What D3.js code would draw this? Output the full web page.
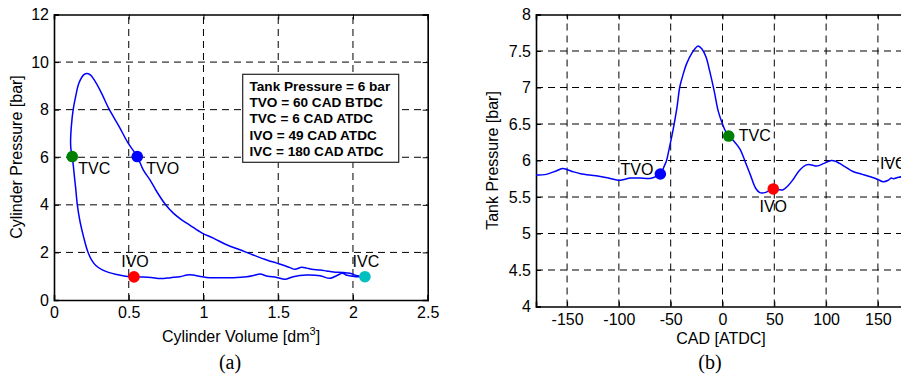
<!DOCTYPE html>
<html>
<head>
<meta charset="utf-8">
<script src="https://cdn.jsdelivr.net/npm/d3@7/dist/d3.min.js"></script>
<style>
html,body{margin:0;padding:0;background:#fff;}
svg{display:block;}
text{font-family:"Liberation Sans",Arial,sans-serif;fill:#000;}
</style>
</head>
<body>
<svg id="chart" width="901" height="380"></svg>
<script>
// ---------- Data: panel (a) cylinder pressure vs volume (cycle order, starting at IVC) ----------
const pvVolume = [
  2.07, 2.03, 1.98, 1.93, 1.87, 1.824, 1.78, 1.724, 1.69, 1.657, 1.612, 1.579, 1.54, 1.49, 1.423, 1.333, 1.244, 1.155, 1.066, 0.988, 0.91, 0.854, 0.798, 0.747, 0.687, 0.642, 0.597, 0.557,
  0.495, 0.435, 0.368, 0.312, 0.268, 0.245, 0.223, 0.2, 0.167, 0.145, 0.129, 0.116, 0.111, 0.114, 0.122,
  0.13, 0.138, 0.145, 0.156, 0.174, 0.2, 0.225, 0.25, 0.28, 0.32, 0.37, 0.42, 0.48, 0.535,
  0.6, 0.65, 0.714, 0.78, 0.843, 0.89, 0.93, 0.97, 1.02, 1.1, 1.2, 1.29, 1.34, 1.378, 1.43, 1.49, 1.545, 1.6, 1.69, 1.78, 1.846, 1.89, 1.93, 1.96, 2.02, 2.07
];
const pvPressure = [
  0.98, 1.02, 1.12, 1.16, 1.18, 1.22, 1.26, 1.29, 1.34, 1.38, 1.29, 1.36, 1.45, 1.55, 1.68, 1.89, 2.11, 2.32, 2.60, 2.82, 3.14, 3.37, 3.65, 4.0, 4.56, 5.05, 5.47, 6.03,
  6.6, 7.3, 8.03, 8.77, 9.26, 9.45, 9.52, 9.47, 9.12, 8.56, 8.03, 7.3, 6.6, 6.3, 6.03,
  5.6, 5.1, 4.7, 4.0, 3.3, 2.6, 2.05, 1.7, 1.45, 1.28, 1.15, 1.07, 1.0, 0.97,
  0.97, 0.95, 0.9, 0.94, 0.98, 1.05, 1.05, 1.0, 0.95, 0.94, 0.94, 0.98, 1.04, 1.09, 1.0, 0.95, 0.87, 0.98, 1.05, 1.02, 0.91, 1.02, 1.12, 1.04, 0.98, 0.98
];
const pvEventNames = ["TVC", "TVO", "IVO", "IVC"];
const pvEventVolume = [0.122, 0.557, 0.535, 2.08];
const pvEventPressure = [6.03, 6.03, 0.97, 0.98];
const eventColors = ["#008000", "#0000ff", "#ff0000", "#00bfbf"];

const pvXTicks = [0, 0.5, 1, 1.5, 2, 2.5];
const pvXTickLabels = ["0", "0.5", "1", "1.5", "2", "2.5"];
const pvYTicks = [0, 2, 4, 6, 8, 10, 12];
const pvYTickLabels = ["0", "2", "4", "6", "8", "10", "12"];

const infoLines = ["Tank Pressure = 6 bar", "TVO = 60 CAD BTDC", "TVC = 6 CAD ATDC", "IVO = 49 CAD ATDC", "IVC = 180 CAD ATDC"];

// ---------- Data: panel (b) tank pressure vs crank angle ----------
const cadValues = [
  -180, -170, -160, -154, -145, -137, -122, -110, -101, -95, -89, -80, -70, -64, -60,
  -56, -54, -50.9, -47.7, -44, -41.2, -38, -34.8, -30, -26, -23.6, -20, -16, -12.3, -8, -4.2, 0, 3, 6.4, 10, 16.7, 22, 27, 32, 36, 41, 48.3,
  54, 58.5, 63, 68.2, 74, 81, 86, 91, 98, 105, 109, 113, 120, 126, 135, 142, 150, 155, 160, 163, 165, 170, 180
];
const tankPressure = [
  5.80, 5.81, 5.86, 5.89, 5.85, 5.82, 5.79, 5.76, 5.73, 5.74, 5.76, 5.76, 5.755, 5.78, 5.815,
  5.93, 6.0, 6.2, 6.42, 6.72, 7.01, 7.18, 7.32, 7.46, 7.54, 7.57, 7.53, 7.42, 7.22, 6.95, 6.68, 6.5, 6.4, 6.335, 6.28, 6.16, 5.98, 5.8, 5.62, 5.56, 5.56, 5.61,
  5.6, 5.6, 5.65, 5.74, 5.86, 5.94, 5.94, 5.925, 5.96, 6.0, 5.99, 5.96, 5.9, 5.85, 5.81, 5.78, 5.74, 5.71, 5.73, 5.76, 5.75, 5.77, 5.79
];
const tankEventNames = ["TVO", "TVC", "IVO", "IVC"];
const tankEventCad = [-60, 6, 49, 180];
const tankEventPressure = [5.815, 6.335, 5.61, 5.79];
const tankEventColors = ["#0000ff", "#008000", "#ff0000", "#00bfbf"];

const cadXTicks = [-150, -100, -50, 0, 50, 100, 150];
const cadXTickLabels = ["-150", "-100", "-50", "0", "50", "100", "150"];
const tankYTicks = [4, 4.5, 5, 5.5, 6, 6.5, 7, 7.5, 8];
const tankYTickLabels = ["4", "4.5", "5", "5.5", "6", "6.5", "7", "7.5", "8"];

// ---------- Drawing ----------
const svg = d3.select("#chart");

function panel(opts) {
  const g = svg.append("g");
  const x = opts.x, y = opts.y;
  const [x0, x1] = x.range();
  const [y0, y1] = y.range(); // y0 bottom, y1 top
  // grid
  g.append("g").selectAll("line").data(opts.xTicks.filter(t => t !== x.domain()[0] && t !== x.domain()[1]))
    .join("line").attr("x1", d => x(d)).attr("x2", d => x(d)).attr("y1", y0).attr("y2", y1)
    .attr("stroke", "#000").attr("stroke-width", 1).attr("stroke-dasharray", "7,5");
  g.append("g").selectAll("line").data(opts.yTicks.filter(t => t !== y.domain()[0] && t !== y.domain()[1]))
    .join("line").attr("y1", d => y(d)).attr("y2", d => y(d)).attr("x1", x0).attr("x2", x1)
    .attr("stroke", "#000").attr("stroke-width", 1).attr("stroke-dasharray", "7,5");
  // axes
  const fmtX = d => opts.xLabels[opts.xTicks.indexOf(d)];
  const fmtY = d => opts.yLabels[opts.yTicks.indexOf(d)];
  const ax = g.append("g").attr("transform", `translate(0,${y0})`)
    .call(d3.axisBottom(x).tickValues(opts.xTicks).tickFormat(fmtX).tickSize(-5).tickPadding(7));
  const ay = g.append("g").attr("transform", `translate(${x0},0)`)
    .call(d3.axisLeft(y).tickValues(opts.yTicks).tickFormat(fmtY).tickSize(-5).tickPadding(5));
  const at = g.append("g").attr("transform", `translate(0,${y1})`)
    .call(d3.axisTop(x).tickValues(opts.xTicks).tickFormat("").tickSize(-5));
  const ar = g.append("g").attr("transform", `translate(${x1},0)`)
    .call(d3.axisRight(y).tickValues(opts.yTicks).tickFormat("").tickSize(-5));
  [ax, ay, at, ar].forEach(a => {
    a.select(".domain").attr("stroke", "#000").attr("stroke-width", 1.6);
    a.selectAll(".tick line").attr("stroke", "#000");
    a.selectAll("text").style("font-size", "16px").attr("fill", "#000")
      .style("font-family", '"Liberation Sans", Arial, sans-serif');
  });
  return g;
}

// Panel (a)
const xa = d3.scaleLinear().domain([0, 2.5]).range([54, 427.7]);
const ya = d3.scaleLinear().domain([0, 12]).range([300, 14.5]);
const ga = panel({x: xa, y: ya, xTicks: pvXTicks, xLabels: pvXTickLabels, yTicks: pvYTicks, yLabels: pvYTickLabels});

const pvPts = pvVolume.map((v, i) => [v, pvPressure[i]]);
ga.append("path").datum(pvPts)
  .attr("d", d3.line().x(d => xa(d[0])).y(d => ya(d[1])).curve(d3.curveCatmullRom.alpha(0.5)))
  .attr("fill", "none").attr("stroke", "#0000ff").attr("stroke-width", 1.5);

ga.append("g").selectAll("circle").data(pvEventNames).join("circle")
  .attr("cx", (d, i) => xa(pvEventVolume[i])).attr("cy", (d, i) => ya(pvEventPressure[i]))
  .attr("r", 5.8).attr("fill", (d, i) => eventColors[i]);

const pvLabelOffsets = {TVC: [6, 17, "start"], TVO: [9, 17, "start"], IVO: [1, -10, "middle"], IVC: [1, -10, "middle"]};
ga.append("g").selectAll("text").data(pvEventNames).join("text")
  .attr("x", (d, i) => xa(pvEventVolume[i]) + pvLabelOffsets[d][0])
  .attr("y", (d, i) => ya(pvEventPressure[i]) + pvLabelOffsets[d][1])
  .attr("text-anchor", d => pvLabelOffsets[d][2])
  .style("font-size", "16px").text(d => d);

// info box
const box = ga.append("g");
box.append("rect").attr("x", 242.7).attr("y", 74.3).attr("width", 156).attr("height", 88)
  .attr("fill", "#fff").attr("stroke", "#222").attr("stroke-width", 1.2);
box.selectAll("text").data(infoLines).join("text")
  .attr("x", 249.5).attr("y", (d, i) => 90.7 + i * 16.35)
  .style("font-size", "13.6px").style("font-weight", "bold").text(d => d);

// axis labels (a)
const xla = ga.append("text").attr("x", 241).attr("y", 342).attr("text-anchor", "middle").style("font-size", "16px");
xla.append("tspan").text("Cylinder Volume [dm");
xla.append("tspan").attr("dy", -7).style("font-size", "11px").text("3");
xla.append("tspan").attr("dy", 7).text("]");
ga.append("text").attr("transform", "translate(22,157) rotate(-90)").attr("text-anchor", "middle")
  .style("font-size", "16px").text("Cylinder Pressure [bar]");
ga.append("text").attr("x", 230).attr("y", 369).attr("text-anchor", "middle")
  .style("font-family", '"Liberation Serif","DejaVu Serif",serif').style("font-size", "20px").text("(a)");

// Panel (b)
const xb = d3.scaleLinear().domain([-180, 180]).range([536, 909]);
const yb = d3.scaleLinear().domain([4, 8]).range([306.5, 14.5]);
const gb = panel({x: xb, y: yb, xTicks: cadXTicks, xLabels: cadXTickLabels, yTicks: tankYTicks, yLabels: tankYTickLabels});

const tankPts = cadValues.map((c, i) => [c, tankPressure[i]]);
gb.append("path").datum(tankPts)
  .attr("d", d3.line().x(d => xb(d[0])).y(d => yb(d[1])).curve(d3.curveCatmullRom.alpha(0.5)))
  .attr("fill", "none").attr("stroke", "#0000ff").attr("stroke-width", 1.5);

gb.append("g").selectAll("circle").data(tankEventNames).join("circle")
  .attr("cx", (d, i) => xb(tankEventCad[i])).attr("cy", (d, i) => yb(tankEventPressure[i]))
  .attr("r", 5.8).attr("fill", (d, i) => tankEventColors[i]);

const tankLabelOffsets = {TVO: [-7, 1, "end"], TVC: [10, 5, "start"], IVO: [0, 23, "middle"], IVC: [-29, -7, "start"]};
gb.append("g").selectAll("text").data(tankEventNames).join("text")
  .attr("x", (d, i) => xb(tankEventCad[i]) + tankLabelOffsets[d][0])
  .attr("y", (d, i) => yb(tankEventPressure[i]) + tankLabelOffsets[d][1])
  .attr("text-anchor", d => tankLabelOffsets[d][2])
  .style("font-size", "16px").text(d => d);

gb.append("text").attr("x", 721).attr("y", 344).attr("text-anchor", "middle").style("font-size", "16px").text("CAD [ATDC]");
gb.append("text").attr("transform", "translate(498,160.5) rotate(-90)").attr("text-anchor", "middle")
  .style("font-size", "16px").text("Tank Pressure [bar]");
gb.append("text").attr("x", 710).attr("y", 369).attr("text-anchor", "middle")
  .style("font-family", '"Liberation Serif","DejaVu Serif",serif').style("font-size", "20px").text("(b)");
</script>
</body>
</html>
